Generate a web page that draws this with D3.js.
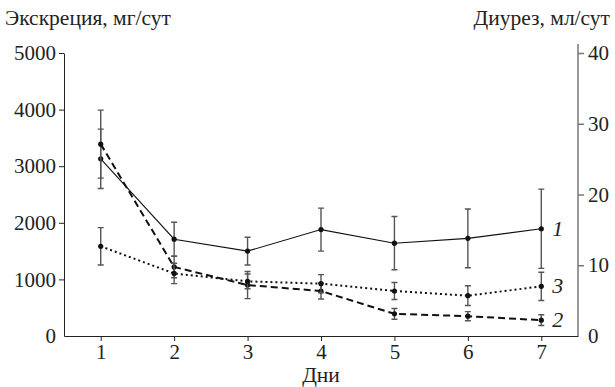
<!DOCTYPE html>
<head>
  <meta charset="utf-8">
  <script src="https://d3js.org/d3.v7.min.js"></script>
  <style>
    body { margin: 0; background: #fff; }
    .axis path, .axis line { stroke: #222; }
    .axis-right path, .axis-right line { stroke: #777; stroke-width: 1.5; }
    .err { stroke: #555; stroke-width: 1.4; fill: none; }
  </style>
</head>

<body>
  <div id="chart"></div>

  <script>
    // days on the x axis
    var days = [1, 2, 3, 4, 5, 6, 7];

    // excretion, mg/day (mean and +/- error)
    var s1 = [3130, 1710, 1500, 1880, 1640, 1725, 1895];
    var s1err = [525, 300, 245, 380, 470, 520, 700];
    var s2 = [3390, 1220, 900, 795, 392, 350, 280];
    var s2err = [600, 190, 240, 140, 95, 80, 95];
    var s3 = [1585, 1105, 965, 925, 795, 713, 877];
    var s3err = [330, 180, 130, 160, 150, 175, 250];

    var leftTicks = [0, 1000, 2000, 3000, 4000, 5000];
    var rightTicks = [0, 10, 20, 30, 40];

    var serif = "Liberation Serif";

    var width = 615, height = 387;
    var margin = {top: 53, right: 37, bottom: 51, left: 64};

    var svg = d3.select("#chart").append("svg")
      .attr("width", width)
      .attr("height", height);

    var x = d3.scaleLinear()
      .domain([0.5, 7.5])
      .range([margin.left, width - margin.right]);

    var y = d3.scaleLinear()
      .domain([0, 5000])
      .range([height - margin.bottom, margin.top]);

    var y2 = d3.scaleLinear()
      .domain([0, 40])
      .range([height - margin.bottom, margin.top]);

    // axes
    svg.append("g")
        .attr("class", "axis")
        .attr("transform", "translate(0," + (height - margin.bottom) + ")")
        .call(d3.axisBottom(x).tickValues(days).tickSize(5).tickSizeOuter(0).tickPadding(3)
          .tickFormat(d3.format("d")));

    var left = svg.append("g")
        .attr("class", "axis")
        .attr("transform", "translate(" + margin.left + ",0)")
        .call(d3.axisLeft(y).tickValues(leftTicks).tickSize(5).tickSizeOuter(0).tickPadding(3)
          .tickFormat(d3.format("d")));
    left.selectAll(".tick").filter(function(d) { return d === 0; }).select("line").remove();

    var right = svg.append("g")
        .attr("class", "axis axis-right")
        .attr("transform", "translate(" + (width - margin.right) + ",0)")
        .call(d3.axisRight(y2).tickValues(rightTicks).tickSize(6).tickSizeOuter(0).tickPadding(4));
    right.select(".domain").attr("d", "M0," + (margin.top - 9) + "V" + (height - margin.bottom));
    right.selectAll(".tick").filter(function(d) { return d === 0; }).select("line").remove();

    svg.selectAll(".axis")
      .attr("font-family", serif)
      .attr("font-size", 21);
    svg.selectAll(".axis text").attr("fill", "#222");

    // titles
    function title(tx, ty, anchor, txt) {
      svg.append("text")
        .attr("x", tx).attr("y", ty)
        .attr("text-anchor", anchor)
        .attr("font-family", serif)
        .attr("font-size", 21.5)
        .attr("fill", "#222")
        .text(txt);
    }
    title(5, 25, "start", "Экскреция, мг/сут");
    title(610, 25, "end", "Диурез, мл/сут");
    title(x(4), 382, "middle", "Дни");

    var series = [
      {vals: s1, err: s1err, dash: null, w: 1.1, label: "1"},
      {vals: s2, err: s2err, dash: "7,4", w: 2, label: "2"},
      {vals: s3, err: s3err, dash: "2,3", w: 2, label: "3"}
    ];

    var line = d3.line()
      .x(function(d) { return x(d[0]); })
      .y(function(d) { return y(d[1]); });

    series.forEach(function(s) {
      var pts = days.map(function(d, i) { return [d, s.vals[i], s.err[i]]; });

      var g = svg.append("g");

      // error bars
      g.selectAll("path.err")
          .data(pts)
        .enter().append("path")
          .attr("class", "err")
          .attr("d", function(d) {
            var cx = x(d[0]), t = y(d[1] + d[2]), b = y(d[1] - d[2]);
            return "M" + (cx - 3) + "," + t + "H" + (cx + 3) +
                   "M" + cx + "," + t + "V" + b +
                   "M" + (cx - 3) + "," + b + "H" + (cx + 3);
          });

      g.append("path")
          .datum(pts)
          .attr("fill", "none")
          .attr("stroke", "#111")
          .attr("stroke-width", s.w)
          .attr("stroke-dasharray", s.dash)
          .attr("d", line);

      g.selectAll("circle")
          .data(pts)
        .enter().append("circle")
          .attr("cx", function(d) { return x(d[0]); })
          .attr("cy", function(d) { return y(d[1]); })
          .attr("r", 2.6)
          .attr("fill", "#111");

      var last = pts[pts.length - 1];
      g.append("text")
          .attr("x", x(last[0]) + 11)
          .attr("y", y(last[1]) + 7)
          .attr("font-family", serif)
          .attr("font-size", 22)
          .attr("font-style", "italic")
          .attr("fill", "#222")
          .text(s.label);
    });
  </script>
</body>
